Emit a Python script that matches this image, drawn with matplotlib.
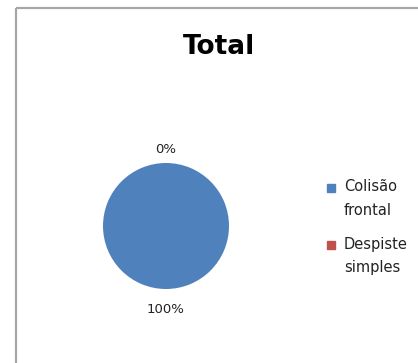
import matplotlib
matplotlib.use("Agg")
import matplotlib.pyplot as plt
from matplotlib.lines import Line2D

# Data
categories = ['Colisão frontal', 'Despiste simples']
values = [1, 0]
colors = ['#4F81BD', '#C0504D']
title = 'Total'

W, H = 418, 363
fig = plt.figure(figsize=(W / 100, H / 100), dpi=100)
plt.rcParams['font.family'] = ['DejaVu Sans']

# chart area border (only left and top edges are inside the picture)
bx, by = 16 / W, 1 - 8 / H
fig.add_artist(Line2D([bx, bx], [0, by], transform=fig.transFigure,
                      color='#a6a6a6', linewidth=1.6, solid_capstyle='butt'))
fig.add_artist(Line2D([bx, 1], [by, by], transform=fig.transFigure,
                      color='#a6a6a6', linewidth=1.6, solid_capstyle='butt'))

# pie
cx, cy, r = 166, 226, 63
ax = fig.add_axes([(cx - r) / W, (H - cy - r) / H, 2 * r / W, 2 * r / H])
wedges, texts, autotexts = ax.pie(values, colors=colors, startangle=90,
                                  counterclock=False, autopct='%1.0f%%',
                                  pctdistance=1.27, radius=1,
                                  textprops={'fontsize': 9.5, 'color': '#222222'})
# data labels: bottom one sits a bit further out than the top one
for t in autotexts:
    x, y = t.get_position()
    k = 1.33 / 1.27 if y < 0 else 1.21 / 1.27
    t.set_position((x * k, y * k))
ax.set_xlim(-1, 1)
ax.set_ylim(-1, 1)
ax.set_aspect('equal')
ax.axis('off')

fig.text(219 / W, 1 - 47.5 / H, title, ha='center', va='center',
         fontsize=19, fontweight='bold', color='black')

# legend, Excel style: marker next to the first line of a wrapped label
leg_x, leg_y, leg_step = 331, 188, 57
for i, (cat, col) in enumerate(zip(categories, colors)):
    y = leg_y + i * leg_step
    fig.add_artist(Line2D([leg_x / W], [1 - y / H], transform=fig.transFigure,
                          marker='s', markersize=6, linestyle='none',
                          markerfacecolor=col, markeredgecolor=col))
    fig.text((leg_x + 13) / W, 1 - (y - 8.5) / H, cat.replace(' ', '\n'),
             ha='left', va='top', fontsize=10.5, color='#222222',
             linespacing=1.7)

fig.savefig('out.png', dpi=100, facecolor='white')
